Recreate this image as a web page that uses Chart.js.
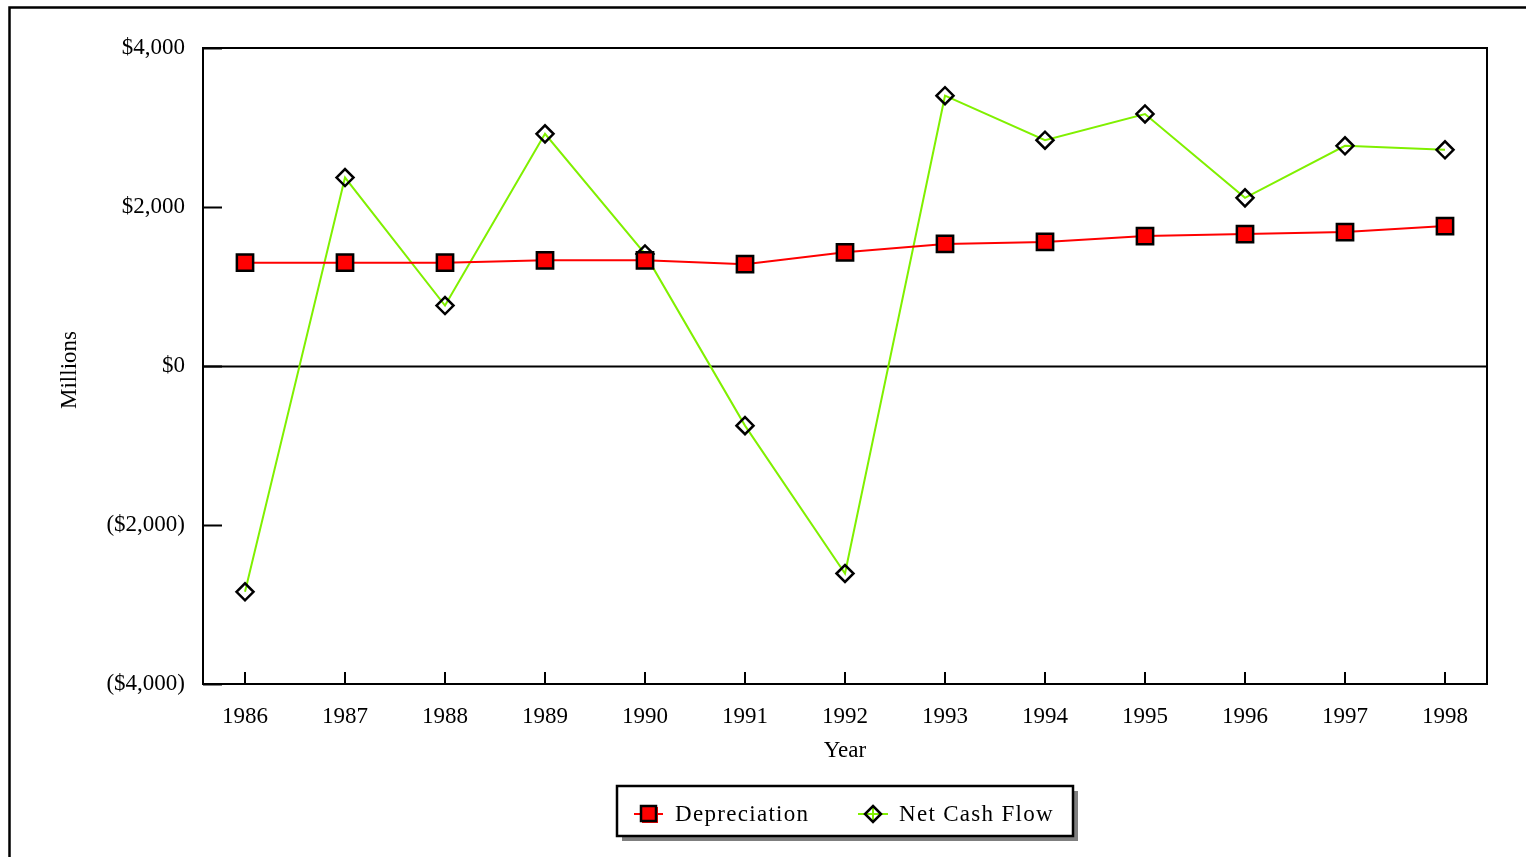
<!DOCTYPE html>
<html>
<head>
<meta charset="utf-8">
<script src="https://cdn.jsdelivr.net/npm/chart.js@4/dist/chart.umd.min.js"></script>
<style>
  html, body { margin: 0; padding: 0; background: #ffffff; }
  #wrap { position: relative; width: 1526px; height: 857px; }
  canvas { display: block; }
</style>
</head>
<body>
<div id="wrap"><canvas id="chart" width="1526" height="857"></canvas></div>
<script>
// Years on the horizontal axis
const years = [1986, 1987, 1988, 1989, 1990, 1991, 1992, 1993, 1994, 1995, 1996, 1997, 1998];

// Annual figures, $ millions
const depreciation = [1300, 1300, 1300, 1330, 1330, 1280, 1430, 1535, 1560, 1635, 1660, 1685, 1760];
const netCashFlow = [-2840, 2370, 760, 2920, 1410, -750, -2610, 3400, 2840, 3170, 2115, 2770, 2720];

// Value axis ticks
const yTicks = [-4000, -2000, 0, 2000, 4000];

const seriesNames = ['Depreciation', 'Net Cash Flow'];
const FONT = "'Liberation Serif', 'Times New Roman', serif";
const FONT_SIZE = 23;

function money(v) {
  const s = '$' + Math.abs(v).toLocaleString('en-US');
  return v < 0 ? '(' + s + ')' : s;
}

// Frame, plot border, zero line, inward tick marks, axis titles and boxed legend
const decorations = {
  id: 'decorations',
  beforeDraw(chart) {
    const ctx = chart.ctx;
    ctx.save();
    ctx.fillStyle = '#ffffff';
    ctx.fillRect(0, 0, chart.width, chart.height);
    ctx.strokeStyle = '#000000';
    ctx.lineWidth = 2.5;
    ctx.beginPath();
    ctx.moveTo(9.5, chart.height + 2);
    ctx.lineTo(9.5, 7.5);
    ctx.lineTo(chart.width + 2, 7.5);
    ctx.stroke();
    ctx.restore();
  },
  beforeDatasetsDraw(chart) {
    const ctx = chart.ctx;
    const a = chart.chartArea;
    const xs = chart.scales.x, ys = chart.scales.y;
    ctx.save();
    ctx.strokeStyle = '#000000';
    ctx.lineWidth = 2;
    // zero line
    const y0 = Math.round(ys.getPixelForValue(0)) + 0.5;
    ctx.beginPath();
    ctx.moveTo(a.left, y0);
    ctx.lineTo(a.right, y0);
    ctx.stroke();
    // x tick marks (inward)
    ctx.beginPath();
    years.forEach(yr => {
      const x = Math.round(xs.getPixelForValue(yr));
      ctx.moveTo(x, a.bottom);
      ctx.lineTo(x, a.bottom - 12);
    });
    // y tick marks (inward)
    yTicks.forEach(v => {
      const y = Math.round(ys.getPixelForValue(v)) + 0.5;
      ctx.moveTo(a.left, y);
      ctx.lineTo(a.left + 19, y);
    });
    ctx.stroke();
    // plot border
    ctx.strokeRect(Math.round(a.left), Math.round(a.top), Math.round(a.right - a.left), Math.round(a.bottom - a.top));
    ctx.restore();
  },
  afterDraw(chart) {
    const ctx = chart.ctx;
    const a = chart.chartArea;
    ctx.save();
    ctx.fillStyle = '#000000';
    ctx.font = FONT_SIZE + 'px ' + FONT;
    ctx.textAlign = 'center';
    ctx.textBaseline = 'middle';
    // axis titles
    ctx.fillText('Year', (a.left + a.right) / 2, 751);
    ctx.save();
    ctx.translate(70, (a.top + a.bottom) / 2 + 4);
    ctx.rotate(-Math.PI / 2);
    ctx.fillText('Millions', 0, 0);
    ctx.restore();

    // legend box with drop shadow
    const bx = 617, by = 786, bw = 456, bh = 50;
    ctx.fillStyle = '#7f7f7f';
    ctx.fillRect(bx + 5, by + 5, bw, bh);
    ctx.fillStyle = '#ffffff';
    ctx.fillRect(bx, by, bw, bh);
    ctx.strokeStyle = '#000000';
    ctx.lineWidth = 2.5;
    ctx.strokeRect(bx, by, bw, bh);

    const ly = 814;
    const ds = chart.data.datasets;
    // Depreciation sample
    ctx.strokeStyle = ds[0].borderColor;
    ctx.lineWidth = 2;
    ctx.beginPath(); ctx.moveTo(634, ly); ctx.lineTo(663, ly); ctx.stroke();
    ctx.fillStyle = '#ff0000';
    ctx.fillRect(642, ly - 7, 16, 16);
    ctx.strokeStyle = '#000000';
    ctx.lineWidth = 2.5;
    ctx.strokeRect(641, ly - 8, 15, 15);
    // Net Cash Flow sample
    ctx.strokeStyle = ds[1].borderColor;
    ctx.lineWidth = 2;
    ctx.beginPath(); ctx.moveTo(858, ly); ctx.lineTo(888, ly); ctx.stroke();
    ctx.beginPath(); ctx.moveTo(873, ly - 7); ctx.lineTo(873, ly + 7); ctx.stroke();
    ctx.strokeStyle = '#000000';
    ctx.lineWidth = 2.5;
    ctx.beginPath();
    ctx.moveTo(873, ly - 8); ctx.lineTo(881, ly); ctx.lineTo(873, ly + 8); ctx.lineTo(865, ly);
    ctx.closePath(); ctx.stroke();

    ctx.fillStyle = '#000000';
    ctx.textAlign = 'left';
    ctx.letterSpacing = '1.3px';
    ctx.fillText(seriesNames[0], 675, ly + 1);
    ctx.fillText(seriesNames[1], 899, ly + 1);
    ctx.restore();
  }
};

const toPoints = vals => vals.map((v, i) => ({ x: years[i], y: v }));

new Chart(document.getElementById('chart'), {
  type: 'line',
  data: {
    datasets: [
      {
        label: seriesNames[0],
        data: toPoints(depreciation),
        borderColor: '#ff0000',
        borderWidth: 2,
        backgroundColor: '#ff0000',
        pointStyle: 'rect',
        pointRadius: 11.5,
        pointHoverRadius: 11.5,
        pointBackgroundColor: '#ff0000',
        pointBorderColor: '#000000',
        pointBorderWidth: 2.5,
        tension: 0
      },
      {
        label: seriesNames[1],
        data: toPoints(netCashFlow),
        borderColor: '#80f000',
        borderWidth: 2,
        backgroundColor: 'rgba(0,0,0,0)',
        pointStyle: 'rectRot',
        pointRadius: 8.5,
        pointHoverRadius: 8.5,
        pointBackgroundColor: 'rgba(0,0,0,0)',
        pointBorderColor: '#000000',
        pointBorderWidth: 2.5,
        tension: 0
      }
    ]
  },
  options: {
    responsive: false,
    animation: false,
    events: [],
    layout: { padding: { left: 0, right: 39, top: 48, bottom: 0 } },
    plugins: { legend: { display: false }, tooltip: { enabled: false } },
    scales: {
      x: {
        type: 'linear',
        min: 1985.58,
        max: 1998.42,
        afterBuildTicks: s => { s.ticks = years.map(v => ({ value: v })); },
        afterFit: s => { s.height = 173; },
        border: { display: false },
        grid: { display: false, drawTicks: false },
        ticks: {
          autoSkip: false,
          maxRotation: 0,
          padding: 19,
          color: '#000000',
          font: { family: FONT, size: FONT_SIZE },
          callback: v => String(v)
        }
      },
      y: {
        type: 'linear',
        min: -4000,
        max: 4000,
        afterBuildTicks: s => { s.ticks = yTicks.map(v => ({ value: v })); },
        afterFit: s => { s.width = 203; },
        border: { display: false },
        grid: { display: false, drawTicks: false },
        ticks: {
          padding: 18,
          color: '#000000',
          font: { family: FONT, size: FONT_SIZE },
          callback: v => money(v)
        }
      }
    }
  },
  plugins: [decorations]
});
</script>
</body>
</html>
